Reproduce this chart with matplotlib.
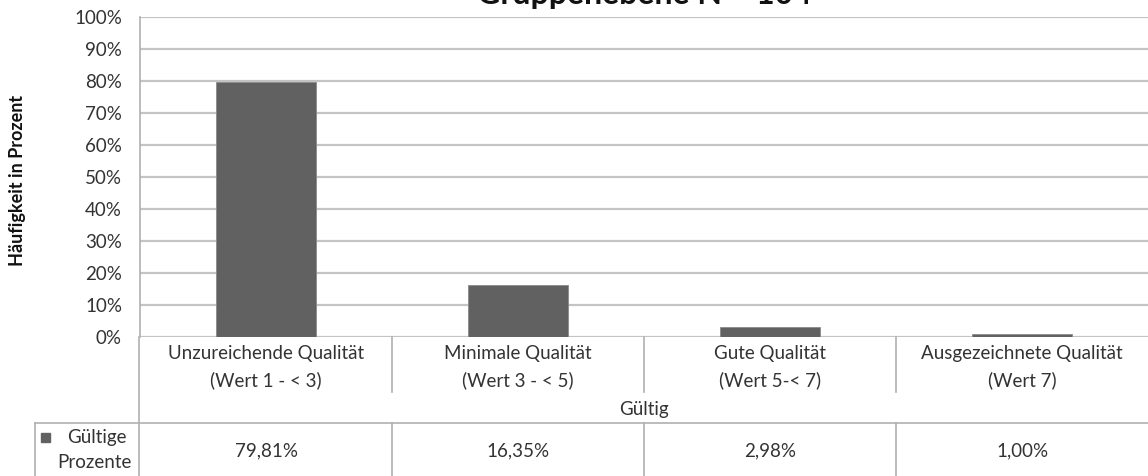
import matplotlib
matplotlib.use("Agg")
import matplotlib.pyplot as plt
from matplotlib.lines import Line2D
from matplotlib.patches import Rectangle

categories_line1 = ["Unzureichende Qualität", "Minimale Qualität", "Gute Qualität", "Ausgezeichnete Qualität"]
categories_line2 = ["(Wert 1 - < 3)", "(Wert 3 - < 5)", "(Wert 5-< 7)", "(Wert 7)"]
values = [79.81, 16.35, 2.98, 1.00]
value_labels = ["79,81%", "16,35%", "2,98%", "1,00%"]
yticks = [0, 10, 20, 30, 40, 50, 60, 70, 80, 90, 100]
group_label = "Gültig"
series_label = ["Gültige", "Prozente"]
title = "Gruppenebene N = 104"
ylabel = "Häufigkeit in Prozent"

plt.rcParams['font.family'] = ['Lato', 'DejaVu Sans']

W, H = 1148, 476
fig = plt.figure(figsize=(W / 100, H / 100), dpi=100)

def fx(px):
    return px / W

def fy(py):
    return 1 - py / H

ax_left, ax_right, ax_top, ax_bottom = 140, 1148, 17, 337
ax = fig.add_axes([fx(ax_left), fy(ax_bottom), fx(ax_right - ax_left), (ax_bottom - ax_top) / H])

bar_color = "#616161"
grid_color = "#c4c4c4"
line_color = "#b0b0b0"
text_color = "#333333"
fs = 13.5

x = list(range(len(values)))
ax.bar(x, values, width=0.4, color=bar_color, edgecolor="#8a8a8a", linewidth=0.6, zorder=3)
ax.set_xlim(-0.5, len(values) - 0.5)
ax.set_ylim(0, 100)
ax.set_yticks(yticks)
ax.set_yticklabels([f"{t}%" for t in yticks])
ax.set_xticks([])
ax.tick_params(axis='y', length=0, pad=13, labelsize=13.5, labelcolor=text_color)
for s in ["top", "right", "bottom"]:
    ax.spines[s].set_visible(False)
ax.spines["left"].set_color(line_color)
ax.spines["left"].set_linewidth(1.2)
for t in yticks:
    ax.axhline(t, color=grid_color, linewidth=1.6, zorder=1)

# Title (partially clipped at top, as in the reference)
fig.text(0.5 * (fx(ax_left) + 1), fy(4), title, ha="center", va="baseline",
         fontsize=23, fontweight="bold", color="#111111")

# Y label
fig.text(fx(18), fy(180), ylabel, rotation=90, ha="center", va="center",
         fontsize=13, fontweight="bold", color="#111111")

def fline(x0, y0, x1, y1, **kw):
    fig.add_artist(Line2D([fx(x0), fx(x1)], [fy(y0), fy(y1)], color=line_color, linewidth=1.2, **kw))

# axis line extends down through the table
fline(139, 337, 139, 476)
# horizontal line below "Gültig"
fline(35, 423, 1148, 423)
# left border of the legend cell
fline(35, 423, 35, 476)

to_fig = fig.transFigure.inverted()
for i in range(len(values)):
    cx_disp = ax.transData.transform((i, 0))[0]
    cx = to_fig.transform((cx_disp, 0))[0]
    fig.text(cx, fy(353), categories_line1[i], ha="center", va="center", fontsize=fs, color=text_color)
    fig.text(cx, fy(380), categories_line2[i], ha="center", va="center", fontsize=fs, color=text_color)
    fig.text(cx, fy(451), value_labels[i], ha="center", va="center", fontsize=fs, color=text_color)
    if i > 0:
        bx_disp = ax.transData.transform((i - 0.5, 0))[0]
        bx = to_fig.transform((bx_disp, 0))[0] * W
        fline(bx, 337, bx, 392)
        fline(bx, 423, bx, 476)

fig.text(0.5 * (fx(ax_left) + 1), fy(410), group_label, ha="center", va="center", fontsize=fs, color=text_color)

# legend cell
fig.add_artist(Rectangle((fx(41), fy(442)), fx(9), 9 / H, color=bar_color, transform=fig.transFigure))
fig.text(fx(97), fy(438), series_label[0], ha="center", va="center", fontsize=fs, color=text_color)
fig.text(fx(94), fy(462), series_label[1], ha="center", va="center", fontsize=fs, color=text_color)

fig.savefig("out.png", dpi=100)
